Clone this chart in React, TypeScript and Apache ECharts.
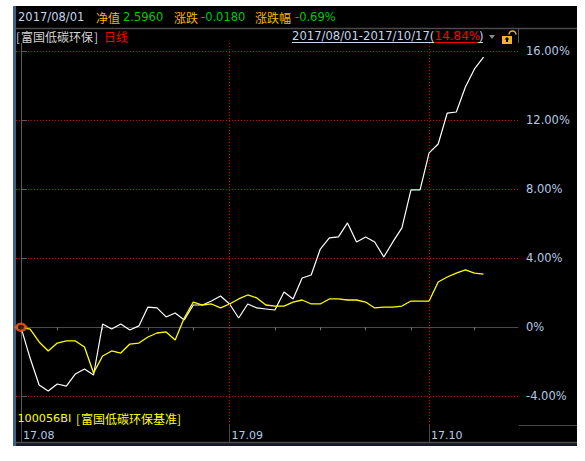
import React, { useEffect, useRef } from "react";
import * as echarts from "echarts";

const fundValues = [0,-1.78,-3.34,-3.69,-3.28,-3.40,-2.70,-2.41,-2.76,0.19,-0.10,0.19,-0.16,0.08,1.17,1.12,0.60,0.83,0.42,1.29,1.29,1.52,1.81,1.35,0.54,1.35,1.12,1.06,1.00,2.04,1.64,2.85,3.03,4.53,5.17,5.23,6.04,4.94,5.23,4.94,4.07,4.94,5.75,7.95,7.95,10.09,10.61,12.40,12.46,13.91,14.95,15.64];
const benchValues = [0,-0.10,-0.85,-1.37,-0.91,-0.79,-0.79,-1.14,-2.64,-1.66,-1.37,-1.49,-0.97,-0.91,-0.56,-0.33,-0.27,-0.73,0.54,1.46,1.29,1.35,1.12,1.35,1.64,1.87,1.70,1.29,1.23,1.23,1.46,1.58,1.35,1.35,1.64,1.64,1.58,1.58,1.46,1.12,1.17,1.17,1.23,1.52,1.52,1.52,2.62,2.91,3.14,3.32,3.14,3.08];
const yTicks = [-4, 0, 4, 8, 12, 16];
const yLabels = ["-4.00%", "0%", "4.00%", "8.00%", "12.00%", "16.00%"];
const monthIdx = [0, 23, 45];
const monthLabels = ["17.08", "17.09", "17.10"];
const minorIdx = [4, 9, 14, 19, 28, 33, 38, 43, 50];
const gridIdx = [23, 45];

const LATIN = "'DejaVu Sans'";
const CJK = "'Noto Sans CJK SC'";
const BLUE = "#b4cbe6";
const ORANGE = "#f8b800";
const GREEN = "#00c800";
const RED = "#ff0000";
const GRAY = "#4a4a4a";
const GRID = "#d00000";

const txt = (x: number, y: number, text: string, fill: string, font = LATIN, size = 11.5) => ({
  type: "text" as const,
  z: 101,
  silent: true,
  style: { x, y, text, fill, fontFamily: font, fontSize: size, textVerticalAlign: "middle", textAlign: "left" },
});
const ln = (x1: number, y1: number, x2: number, y2: number, stroke: string, lineWidth = 1, z = 101) => ({
  type: "line" as const,
  z,
  silent: true,
  shape: { x1, y1, x2, y2 },
  style: { stroke, lineWidth },
});
const box = (x: number, y: number, width: number, height: number, fill: string, z = -10) => ({
  type: "rect" as const,
  z,
  silent: true,
  shape: { x, y, width, height },
  style: { fill },
});

export default function App() {
  const ref = useRef<HTMLDivElement>(null);
  useEffect(() => {
    const chart = echarts.init(ref.current!, undefined, { renderer: "svg", width: 585, height: 461 });
    const xMin = -0.551;
    const xMax = 54.8;
    const xBase = { type: "value" as const, position: "bottom" as const, min: xMin, max: xMax, splitLine: { show: false } };
    chart.setOption({
      animation: false,
      backgroundColor: "#ffffff",
      grid: { left: 16, right: 67, top: 29, bottom: 36, containLabel: false },
      xAxis: [
        {
          ...xBase,
          axisLine: { show: true, lineStyle: { color: GRAY, width: 1 } },
          axisTick: { show: true, length: 3, customValues: minorIdx, lineStyle: { color: "#777" } },
          axisLabel: { show: false },
        },
        {
          ...xBase,
          axisLine: { show: false },
          axisTick: { show: true, length: 17, customValues: monthIdx, lineStyle: { color: GRAY } },
          axisLabel: {
            show: true,
            customValues: monthIdx,
            formatter: (v: number) => monthLabels[monthIdx.indexOf(v)] ?? "",
            color: BLUE,
            fontFamily: LATIN,
            fontSize: 11,
            align: "left",
            margin: 5,
            padding: [0, 0, 0, 2],
          },
        },
      ],
      yAxis: {
        type: "value",
        position: "right",
        min: -5.654,
        max: 17.263,
        axisLine: { show: true, lineStyle: { color: "#5a5a5a", width: 1 } },
        axisTick: { show: true, length: 6, customValues: yTicks, lineStyle: { color: "#5a5a5a" } },
        axisLabel: {
          show: true,
          customValues: yTicks,
          formatter: (v: number) => yLabels[yTicks.indexOf(v)] ?? "",
          color: BLUE,
          fontFamily: LATIN,
          fontSize: 11.5,
          margin: 8,
        },
        splitLine: { show: true, lineStyle: { color: GRID, width: 1, type: [1, 2] } },
      },
      series: [
        {
          type: "line",
          data: fundValues.map((v, i) => [i, v]),
          symbol: "none",
          lineStyle: { color: "#ffffff", width: 1.2 },
          markLine: {
            silent: true,
            symbol: "none",
            label: { show: false },
            lineStyle: { color: GRID, width: 1, type: [1, 2] },
            data: gridIdx.map((i) => ({ xAxis: i })),
          },
        },
        {
          type: "line",
          data: benchValues.map((v, i) => [i, v]),
          symbol: "none",
          lineStyle: { color: "#ffff00", width: 1.3 },
        },
        {
          type: "scatter",
          data: [[0, 0]],
          symbol: "rect",
          symbolSize: [13, 2],
          itemStyle: { color: "#ff5a10" },
          z: 5,
        },
        {
          type: "scatter",
          data: [[0, 0]],
          symbol: "circle",
          symbolSize: [9, 7],
          itemStyle: { color: "#200800", borderColor: "#ff6010", borderWidth: 2.6 },
          z: 6,
        },
      ],
      graphic: {
        elements: [
          box(13, 6, 564, 440, "#000000", -20),
          box(13, 6, 3, 440, "#3f5f87", -19),
          box(16, 442, 561, 4, "#161a26", -19),
          box(16, 29, 502, 14, "#000000", 100),
          ln(16, 28.5, 577, 28.5, GRAY, 1.5),
          ln(518.5, 28, 518.5, 43, "#5a5a5a"),
          ln(518.5, 425.5, 577, 425.5, GRAY),
          ln(16, 442.5, 577, 442.5, GRAY, 1.5),
          txt(18, 17, "2017/08/01", "#c4d6ee"),
          txt(96, 17, "净值", ORANGE, CJK, 12),
          txt(123, 17, "2.5960", GREEN),
          txt(174, 17, "涨跌", ORANGE, CJK, 12),
          txt(201, 17, "-0.0180", GREEN),
          txt(255, 17, "涨跌幅", ORANGE, CJK, 12),
          txt(295, 17, "-0.69%", GREEN),
          txt(16, 36, "[", "#d4d4d4", CJK, 12),
          txt(21, 36, "富国低碳环保", "#d4d4d4", CJK, 12),
          txt(94, 36, "]", "#d4d4d4", CJK, 12),
          txt(104, 36, "日线", RED, CJK, 12),
          txt(292, 36, "2017/08/01-2017/10/17(", "#c4d6ee", LATIN, 11.6),
          txt(434.5, 36, "14.84%", RED, LATIN, 12),
          txt(479, 36, ")", "#c4d6ee", LATIN, 11.6),
          ln(292, 42.5, 434, 42.5, "#c4d6ee"),
          ln(434, 42.5, 478, 42.5, RED),
          ln(478, 42.5, 483, 42.5, "#c4d6ee"),
          {
            type: "polygon",
            z: 101,
            silent: true,
            shape: { points: [[489, 35], [495, 35], [492, 39]] },
            style: { fill: "#8a8a8a" },
          },
          box(502, 36, 10, 8, "#f4b030", 101),
          {
            type: "arc",
            z: 101,
            silent: true,
            shape: { cx: 512.5, cy: 34.5, r: 3.5, startAngle: Math.PI, endAngle: Math.PI * 2 },
            style: { stroke: "#f4b030", lineWidth: 1.5, fill: "none" },
          },
          {
            type: "polygon",
            z: 102,
            silent: true,
            shape: { points: [[507, 37], [509.5, 39.5], [504.5, 39.5]] },
            style: { fill: "#000000" },
          },
          box(506, 39, 2, 3, "#000000", 102),
          txt(17.5, 418, "100056BI", "#ffff00", LATIN, 11.2),
          txt(76, 418, "[", "#ffff00", CJK, 12),
          txt(81, 418, "富国低碳环保基准", "#ffff00", CJK, 12),
          txt(177, 418, "]", "#ffff00", CJK, 12),
        ],
      },
    });
    return () => chart.dispose();
  }, []);
  return (
    <div
      ref={ref}
      style={{ position: "fixed", left: 0, top: 0, width: 585, height: 461, background: "#fff" }}
    />
  );
}
